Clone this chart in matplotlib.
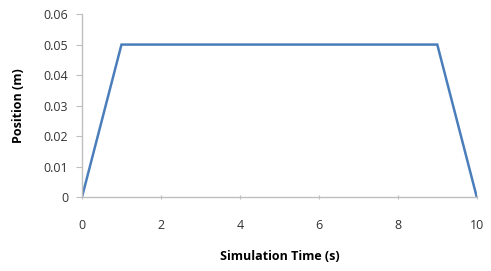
import matplotlib
matplotlib.use("Agg")
import matplotlib.pyplot as plt

# data
time_s = [0, 1, 9, 10]
position_m = [0, 0.05, 0.05, 0]
x_ticks = [0, 2, 4, 6, 8, 10]
y_ticks = [0, 0.01, 0.02, 0.03, 0.04, 0.05, 0.06]
y_labels = ["0", "0.01", "0.02", "0.03", "0.04", "0.05", "0.06"]

plt.rcParams['font.family'] = ['Open Sans', 'DejaVu Sans']

fig = plt.figure(figsize=(4.91, 2.71), dpi=100)
ax = fig.add_axes([0.167, 0.273, 0.804, 0.675])

ax.plot(time_s, position_m, color='#4A7EBB', linewidth=1.8, solid_joinstyle='miter')

ax.set_xlim(0, 10)
ax.set_ylim(0, 0.06)
ax.set_xticks(x_ticks)
ax.set_yticks(y_ticks)
ax.set_yticklabels(y_labels)

for s in ['top', 'right']:
    ax.spines[s].set_visible(False)
for s in ['left', 'bottom']:
    ax.spines[s].set_color('#BFBFBF')
    ax.spines[s].set_linewidth(1.0)

ax.tick_params(axis='y', colors='#BFBFBF', labelcolor='#333333', labelsize=9,
               length=4, direction='out', pad=6)
ax.tick_params(axis='x', colors='#BFBFBF', labelcolor='#333333', labelsize=9,
               length=3, direction='inout', pad=14)

ax.set_xlabel('Simulation Time (s)', fontsize=9, fontweight='bold', labelpad=13)
ax.set_ylabel('Position (m)', fontsize=9, fontweight='bold', labelpad=13)

fig.savefig('out.png', dpi=100)
